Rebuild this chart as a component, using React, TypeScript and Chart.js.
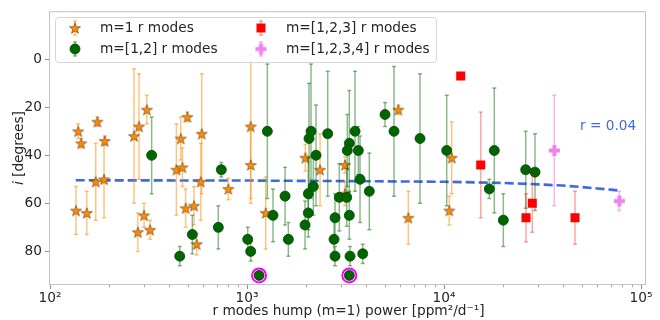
import React, { useEffect, useRef } from "react";
import { Chart, registerables } from "chart.js";

Chart.register(...registerables);

// r-mode hump power (ppm^2/d^-1) vs inclination i (degrees), per mode group
const m1Power = [135.5, 139, 144, 153.6, 170.6, 174, 188, 189.5, 267, 279, 283, 300, 310, 322, 438, 461, 470, 498, 488, 538, 555, 582, 589, 804, 1044, 1044, 1244, 1977, 2348, 3143, 3143, 5861, 6590, 10640, 10940];
const m1Incl = [63, 30, 35, 64, 51, 26, 50, 34, 32, 72, 28, 65, 21, 71, 46, 33, 45, 24, 62, 61, 77, 51, 31, 54, 28, 44, 64, 41, 46, 44, 56, 21, 66, 63, 41];
const m1Err = [10, 3, 2, 9, 16, 2, 16, 2, 28, 8, 22, 5, 6, 4, 19, 9, 8, 2, 8, 8, 4.5, 16, 25, 4.5, 30, 16, 15, 5.5, 15, 3.5, 5, 2, 11, 6, 15];

const m12Power = [328, 455.5, 527.6, 715, 740.5, 1008, 1044, 1151, 1268, 1355, 1560, 1621, 1970, 2047, 2047, 2171, 2064, 2113, 2240, 2568, 2797, 2765, 2797, 2941, 3207, 3306, 3229, 3534, 3673, 3747, 3306, 3333, 3867, 4177, 3306, 5017, 5574, 7554, 10320, 18000, 16980, 20000, 25980, 28960];
const m12Incl = [40, 82, 73, 70, 46, 75, 80, 90, 30, 65, 57, 75, 69, 64, 56, 53, 33, 30, 40, 31, 66, 75, 82, 57.5, 57.5, 35, 38, 30, 38, 50, 65, 82, 81, 55, 90, 23, 30, 33, 38, 38, 54, 67, 46, 47];
const m12Err = [16, 4, 8, 9, 3, 5, 4, 0, 28, 11, 12, 7, 10, 10, 15, 12, 23, 28, 21, 26, 10, 8, 4, 14, 12, 22, 15, 25, 10, 18, 10, 4, 4, 16, 0, 5, 27, 27, 23, 26, 4, 11, 16, 16];

const m123Power = [12160, 15360, 26080, 28070, 46240];
const m123Incl = [7, 44, 66, 60, 66];
const m123Err = [0, 22, 10, 12, 11];

const m1234Power = [36300, 77600];
const m1234Incl = [38, 59];
const m1234Err = [23, 4];

// linear regression of i against power, sampled along its span
const fitPower = [135, 1000, 10000, 20000, 30000, 40000, 50000, 60000, 70000, 77600];
const fitIncl = [50.4, 50.5, 51.0, 51.5, 52.1, 52.6, 53.2, 53.8, 54.3, 54.7];
const corrLabel = "r = 0.04";

// edge-on stars (i = 90) are circled
const edgeOnIncl = 90;

const legendLabels = ["m=1 r modes", "m=[1,2] r modes", "m=[1,2,3] r modes", "m=[1,2,3,4] r modes"];

const xTickValues = [100, 1000, 10000, 100000];
const xTickLabels = ["10²", "10³", "10⁴", "10⁵"];
const xMinorDecades = [100, 1000, 10000];
const yTickValues = [0, 20, 40, 60, 80];

const xTitle = "r modes hump (m=1) power [ppm²/d⁻¹]";
const yTitleSymbol = "i";
const yTitleUnit = " [degrees]";

const FONT = '"DejaVu Sans", "Liberation Sans", sans-serif';
const FS = 13.7;
const TEXT = "#262626";
const ORANGE = "#ff8c00";
const GREEN = "#006400";
const RED = "#ff0000";
const VIOLET = "#ee82ee";
const BLUE = "#4169e1";

function toPoints(xs: number[], ys: number[]) {
  return xs.map((x, k) => ({ x, y: ys[k] }));
}

function starSprite(outer: number, fill: string, edge: string) {
  const size = Math.ceil(outer * 2 + 4);
  const c = document.createElement("canvas");
  c.width = size;
  c.height = size;
  const g = c.getContext("2d")!;
  g.translate(size / 2, size / 2 + 0.6);
  g.beginPath();
  for (let k = 0; k < 10; k++) {
    const r = k % 2 === 0 ? outer : outer * 0.4;
    const a = -Math.PI / 2 + (k * Math.PI) / 5;
    g.lineTo(r * Math.cos(a), r * Math.sin(a));
  }
  g.closePath();
  g.fillStyle = fill;
  g.fill();
  g.lineWidth = 0.8;
  g.strokeStyle = edge;
  g.stroke();
  return c;
}

function plusSprite(half: number, arm: number, fill: string) {
  const size = Math.ceil(half * 2 + 2);
  const c = document.createElement("canvas");
  c.width = size;
  c.height = size;
  const g = c.getContext("2d")!;
  const m = size / 2;
  g.fillStyle = fill;
  g.fillRect(m - half, m - arm / 2, half * 2, arm);
  g.fillRect(m - arm / 2, m - half, arm, half * 2);
  return c;
}

function drawBar(ctx: CanvasRenderingContext2D, px: number, y1: number, y2: number, cap: number) {
  ctx.beginPath();
  ctx.moveTo(px, y1);
  ctx.lineTo(px, y2);
  ctx.stroke();
  ctx.beginPath();
  ctx.moveTo(px - cap, y1);
  ctx.lineTo(px + cap, y1);
  ctx.stroke();
  ctx.beginPath();
  ctx.moveTo(px - cap, y2);
  ctx.lineTo(px + cap, y2);
  ctx.stroke();
}

const errorBarPlugin = {
  id: "errorBars",
  beforeDatasetDraw(chart: any, args: any) {
    const ds = chart.data.datasets[args.index];
    const errs: number[] | undefined = ds.errors;
    if (!errs) return;
    const { ctx, chartArea, scales } = chart;
    ctx.save();
    ctx.beginPath();
    ctx.rect(chartArea.left, chartArea.top, chartArea.right - chartArea.left, chartArea.bottom - chartArea.top);
    ctx.clip();
    ctx.strokeStyle = ds.errorColor;
    ctx.lineWidth = 1.5;
    ds.data.forEach((p: any, k: number) => {
      const e = errs[k];
      if (!e) return;
      const px = scales.x.getPixelForValue(p.x);
      const y1 = scales.y.getPixelForValue(p.y - e);
      const y2 = scales.y.getPixelForValue(p.y + e);
      drawBar(ctx, px, y1, y2, 2);
    });
    ctx.restore();
  },
};

function makeDecorPlugin(sprites: { star: HTMLCanvasElement; plus: HTMLCanvasElement }) {
  return {
    id: "decor",
    beforeDatasetsDraw(chart: any) {
      const { ctx, chartArea: a } = chart;
      ctx.save();
      ctx.fillStyle = "#ffffff";
      ctx.fillRect(a.left, a.top, a.right - a.left, a.bottom - a.top);
      ctx.restore();
    },
    afterDraw(chart: any) {
      const { ctx, chartArea: a, scales } = chart;
      ctx.save();

      // frame
      ctx.strokeStyle = "#c4c4c4";
      ctx.lineWidth = 1;
      ctx.strokeRect(a.left + 0.5, a.top + 0.5, a.right - a.left - 1, a.bottom - a.top - 1);

      // minor ticks on the log axis
      ctx.strokeStyle = "#8c8c8c";
      ctx.lineWidth = 0.8;
      xMinorDecades.forEach((d) => {
        for (let m = 2; m <= 9; m++) {
          const px = Math.round(scales.x.getPixelForValue(d * m)) + 0.5;
          ctx.beginPath();
          ctx.moveTo(px, a.bottom);
          ctx.lineTo(px, a.bottom + 2.2);
          ctx.stroke();
        }
      });

      // correlation label
      ctx.fillStyle = BLUE;
      ctx.font = `${FS}px ${FONT}`;
      ctx.textAlign = "left";
      ctx.textBaseline = "middle";
      ctx.fillText(corrLabel, 580, 126);

      // axis titles
      ctx.fillStyle = TEXT;
      ctx.textAlign = "center";
      ctx.fillText(xTitle, (a.left + a.right) / 2 + 1, 311);

      ctx.save();
      ctx.translate(19, (a.top + a.bottom) / 2);
      ctx.rotate(-Math.PI / 2);
      ctx.font = `italic ${FS}px ${FONT}`;
      const w1 = ctx.measureText(yTitleSymbol).width;
      ctx.font = `${FS}px ${FONT}`;
      const w2 = ctx.measureText(yTitleUnit).width;
      ctx.textAlign = "left";
      ctx.font = `italic ${FS}px ${FONT}`;
      ctx.fillText(yTitleSymbol, -(w1 + w2) / 2, 0);
      ctx.font = `${FS}px ${FONT}`;
      ctx.fillText(yTitleUnit, -(w1 + w2) / 2 + w1, 0);
      ctx.restore();

      // legend
      const bx = 55, by = 17, bw = 381, bh = 45;
      ctx.beginPath();
      ctx.roundRect(bx + 0.5, by + 0.5, bw, bh, 3);
      ctx.fillStyle = "rgba(255,255,255,0.8)";
      ctx.fill();
      ctx.strokeStyle = "#d6d6d6";
      ctx.lineWidth = 1;
      ctx.stroke();

      const rows = [28, 49];
      const markX = [75, 261];
      const textX = [100, 286];
      const entries = [
        { col: 0, row: 0, bar: "rgba(255,140,0,0.5)", kind: "star" },
        { col: 0, row: 1, bar: "rgba(0,100,0,0.45)", kind: "circle" },
        { col: 1, row: 0, bar: "rgba(255,0,0,0.35)", kind: "square" },
        { col: 1, row: 1, bar: "rgba(238,130,238,0.6)", kind: "plus" },
      ];
      entries.forEach((en, k) => {
        const mx = markX[en.col];
        const my = rows[en.row];
        ctx.strokeStyle = en.bar;
        ctx.lineWidth = 1.5;
        drawBar(ctx, mx, my - 7, my + 7, 2);
        if (en.kind === "star") {
          ctx.drawImage(sprites.star, mx - sprites.star.width / 2, my - sprites.star.height / 2);
        } else if (en.kind === "plus") {
          ctx.drawImage(sprites.plus, mx - sprites.plus.width / 2, my - sprites.plus.height / 2);
        } else if (en.kind === "circle") {
          ctx.beginPath();
          ctx.arc(mx, my, 5, 0, Math.PI * 2);
          ctx.fillStyle = GREEN;
          ctx.fill();
          ctx.strokeStyle = "#004a00";
          ctx.lineWidth = 0.8;
          ctx.stroke();
        } else {
          ctx.fillStyle = RED;
          ctx.fillRect(mx - 4.5, my - 4.5, 9, 9);
        }
        ctx.fillStyle = TEXT;
        ctx.font = `${FS}px ${FONT}`;
        ctx.textAlign = "left";
        ctx.textBaseline = "middle";
        ctx.fillText(legendLabels[k], textX[en.col], my);
      });

      ctx.restore();
    },
  };
}

export default function App() {
  const canvasRef = useRef<HTMLCanvasElement | null>(null);

  useEffect(() => {
    document.body.style.margin = "0";
    const canvas = canvasRef.current;
    if (!canvas) return;

    const star = starSprite(5.8, ORANGE, "rgba(110,70,30,0.85)");
    const plus = plusSprite(5.5, 4, VIOLET);

    const m12Points = toPoints(m12Power, m12Incl);
    const ringPoints = m12Points.filter((p) => p.y === edgeOnIncl);

    const chart = new Chart(canvas, {
      type: "scatter",
      data: {
        datasets: [
          {
            label: "fit",
            data: toPoints(fitPower, fitIncl),
            showLine: true,
            borderColor: BLUE,
            borderWidth: 2.6,
            borderDash: [9, 4],
            pointRadius: 0,
            fill: false,
            order: 10,
          } as any,
          {
            label: legendLabels[0],
            data: toPoints(m1Power, m1Incl),
            pointStyle: star,
            errors: m1Err,
            errorColor: "rgba(255,140,0,0.5)",
            order: 4,
          } as any,
          {
            label: legendLabels[1],
            data: m12Points,
            pointStyle: "circle",
            pointRadius: 5,
            backgroundColor: GREEN,
            borderColor: "#004a00",
            borderWidth: 0.8,
            errors: m12Err,
            errorColor: "rgba(0,100,0,0.45)",
            order: 3,
          } as any,
          {
            label: legendLabels[2],
            data: toPoints(m123Power, m123Incl),
            pointStyle: "rect",
            pointRadius: 6.4,
            backgroundColor: RED,
            borderColor: RED,
            borderWidth: 0,
            errors: m123Err,
            errorColor: "rgba(255,0,0,0.35)",
            order: 2,
          } as any,
          {
            label: legendLabels[3],
            data: toPoints(m1234Power, m1234Incl),
            pointStyle: plus,
            errors: m1234Err,
            errorColor: "rgba(238,130,238,0.6)",
            order: 1,
          } as any,
          {
            label: "edge-on",
            data: ringPoints,
            pointStyle: "circle",
            pointRadius: 7,
            backgroundColor: "rgba(0,0,0,0)",
            borderColor: "#ff00ff",
            borderWidth: 2,
            order: 0,
          } as any,
        ],
      },
      options: {
        responsive: false,
        animation: false,
        events: [],
        layout: { padding: { left: 0, right: 14, top: 10, bottom: 0 } },
        plugins: {
          legend: { display: false },
          tooltip: { enabled: false },
        },
        scales: {
          x: {
            type: "logarithmic",
            min: 98.8,
            max: 106000,
            afterBuildTicks: (s: any) => {
              s.ticks = xTickValues.map((v) => ({ value: v }));
            },
            afterFit: (s: any) => {
              s.height = 35;
            },
            ticks: {
              autoSkip: false,
              maxRotation: 0,
              padding: 1,
              color: TEXT,
              font: { family: FONT, size: FS },
              callback: (_v: any, i: number) => xTickLabels[i],
            },
            grid: { drawOnChartArea: false, tickLength: 4, color: "#8c8c8c" },
            border: { display: false },
          },
          y: {
            type: "linear",
            reverse: true,
            min: -20,
            max: 94,
            afterBuildTicks: (s: any) => {
              s.ticks = yTickValues.map((v) => ({ value: v }));
            },
            afterFit: (s: any) => {
              s.width = 49;
            },
            ticks: {
              padding: 3,
              color: TEXT,
              font: { family: FONT, size: FS },
              callback: (v: any) => String(v),
            },
            grid: { drawOnChartArea: false, tickLength: 4, color: "#8c8c8c" },
            border: { display: false },
          },
        },
      },
      plugins: [errorBarPlugin, makeDecorPlugin({ star, plus })],
    } as any);

    return () => chart.destroy();
  }, []);

  return (
    <div style={{ width: 660, height: 320, background: "#ffffff" }}>
      <canvas ref={canvasRef} width={660} height={320} />
    </div>
  );
}
